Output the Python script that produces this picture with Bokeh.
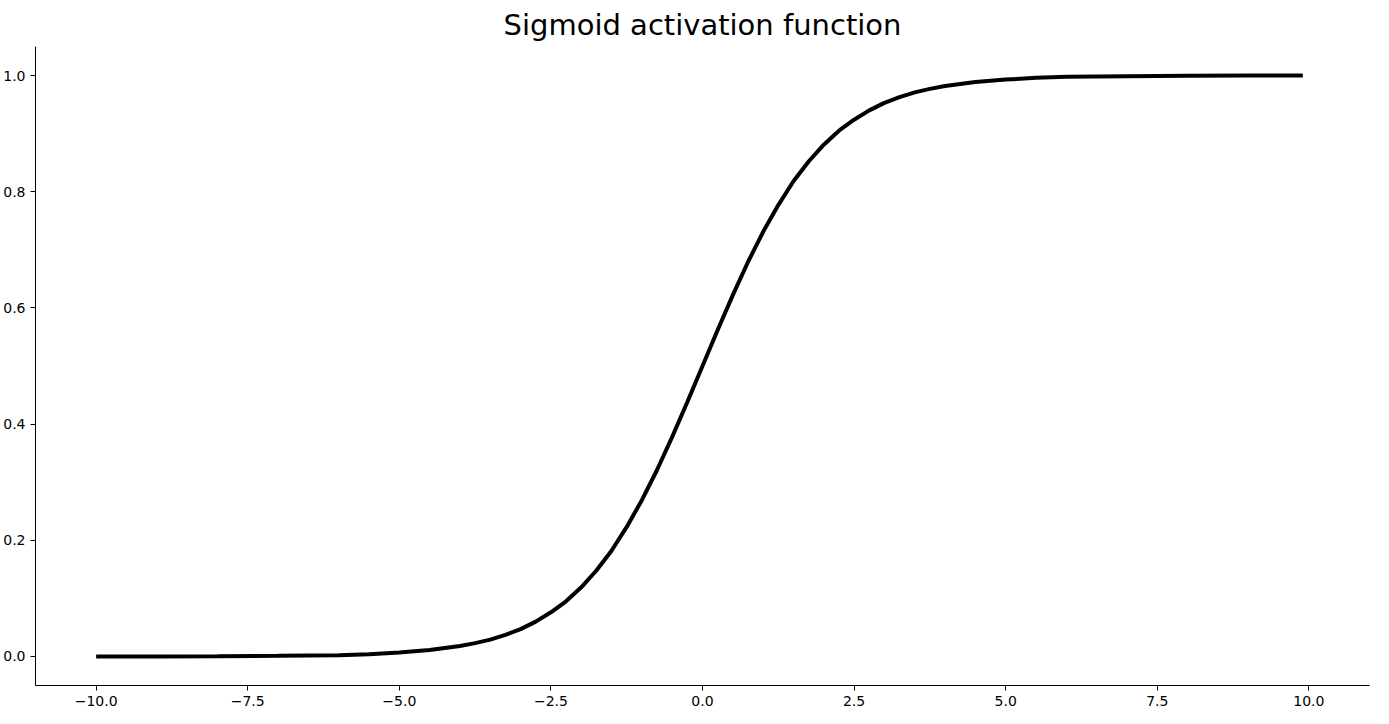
from bokeh.plotting import figure
from bokeh.embed import file_html
from bokeh.resources import INLINE
from bokeh.models import Range1d, FixedTicker

xs = [-10, -9, -8, -7, -6, -5.5, -5, -4.5, -4, -3.75, -3.5, -3.25, -3, -2.75, -2.5, -2.25, -2, -1.75, -1.5, -1.25, -1, -0.75, -0.5, -0.25,
      0, 0.25, 0.5, 0.75, 1, 1.25, 1.5, 1.75, 2, 2.25, 2.5, 2.75, 3, 3.25, 3.5, 3.75, 4, 4.5, 5, 5.5, 6, 7, 8, 9, 9.9]
ys = [0.000, 0.0001, 0.0003, 0.001, 0.002, 0.004, 0.007, 0.011, 0.018, 0.023, 0.029, 0.037, 0.047, 0.060, 0.076, 0.095, 0.119, 0.148, 0.182, 0.223, 0.269, 0.321, 0.378, 0.438,
      0.5, 0.562, 0.622, 0.679, 0.731, 0.777, 0.818, 0.852, 0.881, 0.905, 0.924, 0.940, 0.953, 0.963, 0.971, 0.977, 0.982, 0.989, 0.993, 0.996, 0.998, 0.999, 0.9997, 0.9999, 1.0]
xticks = [-10, -7.5, -5, -2.5, 0, 2.5, 5, 7.5, 10]
yticks = [0.0, 0.2, 0.4, 0.6, 0.8, 1.0]

p = figure(width=1373, height=708, output_backend="svg", toolbar_location=None,
           title="Sigmoid activation function",
           x_range=Range1d(-11.0, 11.0), y_range=Range1d(-0.05, 1.05),
           min_border_left=35, min_border_right=4, min_border_top=33, min_border_bottom=14)
p.line(xs, ys, line_width=4, line_color="black")
p.title.align = "center"
p.title.text_font = "DejaVu Sans"
p.title.text_font_size = "29px"
p.title.text_font_style = "normal"
p.title.text_color = "black"
p.grid.visible = False
p.outline_line_color = None
p.background_fill_color = "white"
p.border_fill_color = "white"
p.xaxis.ticker = FixedTicker(ticks=xticks)
p.yaxis.ticker = FixedTicker(ticks=yticks)
p.xaxis.major_label_overrides = {t: f"{t:.1f}".replace("-", "\u2212") for t in xticks}
p.yaxis.major_label_overrides = {t: f"{t:.1f}" for t in yticks}
for ax in (p.xaxis, p.yaxis):
    ax.minor_tick_line_color = None
    ax.major_label_text_font = "DejaVu Sans"
    ax.major_label_text_font_size = "14px"
    ax.major_label_text_color = "black"
    ax.axis_line_color = "black"
    ax.major_tick_line_color = "black"
    ax.major_tick_in = 0
    ax.major_tick_out = 5

open("out.html", "w").write(file_html(p, INLINE))
